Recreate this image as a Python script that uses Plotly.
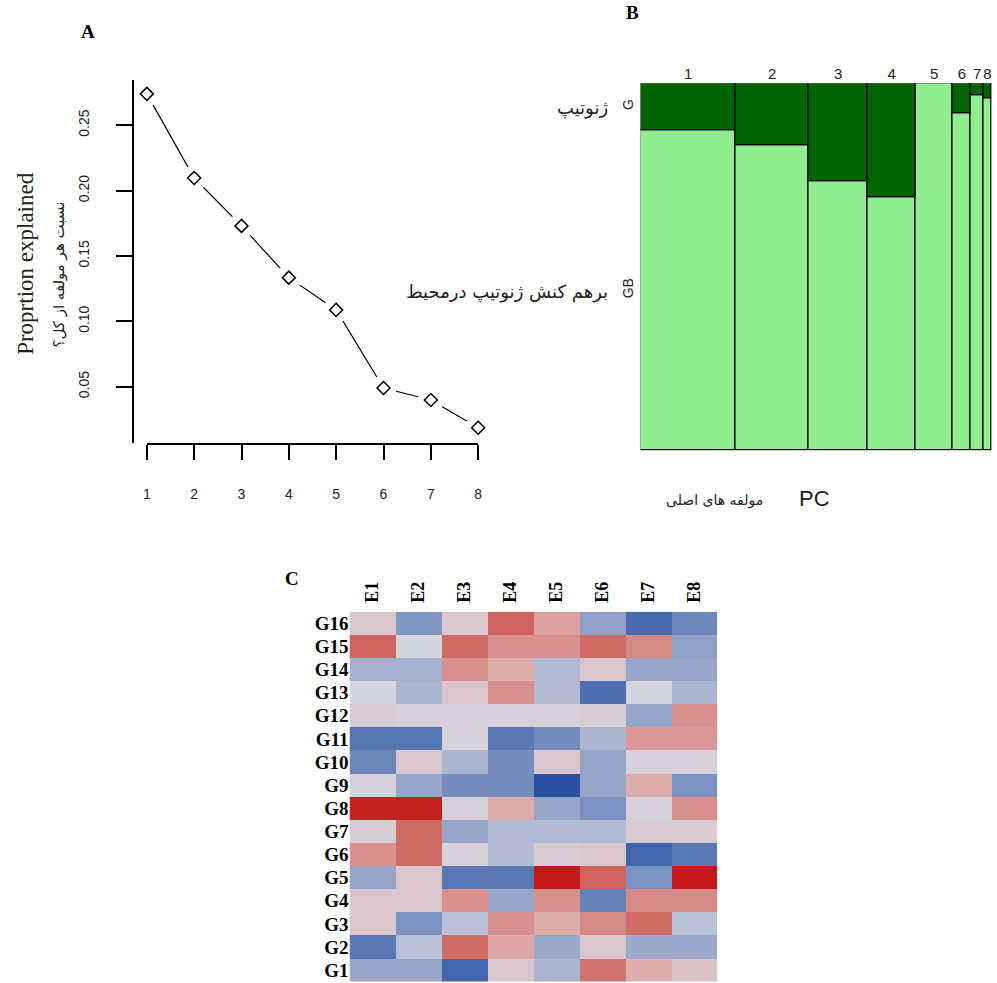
import plotly.graph_objects as go

W, H = 997, 983

# ---------------- data ----------------
pc_labels = [1, 2, 3, 4, 5, 6, 7, 8]
prop_explained = [0.274, 0.2096, 0.173, 0.1334, 0.1087, 0.049, 0.0398, 0.0186]
y_ticks_a = [0.05, 0.10, 0.15, 0.20, 0.25]

mosaic_col_share = [0.271, 0.208, 0.169, 0.136, 0.106, 0.052, 0.035, 0.024]
g_share = [0.127, 0.170, 0.266, 0.309, 0.0, 0.083, 0.032, 0.041]

env_labels = ["E1", "E2", "E3", "E4", "E5", "E6", "E7", "E8"]
gen_labels = ["G16", "G15", "G14", "G13", "G12", "G11", "G10", "G9",
              "G8", "G7", "G6", "G5", "G4", "G3", "G2", "G1"]
heat_values = [
    [0.3, -1.2, 0.3, 1.8, 1.0, -1.0, -2.2, -1.5],   # G16
    [1.8, 0.0, 1.7, 1.2, 1.2, 1.7, 1.3, -1.0],      # G15
    [-0.7, -0.7, 1.2, 0.8, -0.5, 0.3, -0.9, -0.9],  # G14
    [0.0, -0.6, 0.3, 1.2, -0.5, -2.0, 0.0, -0.6],   # G13
    [0.2, 0.1, 0.1, 0.1, 0.1, 0.2, -0.9, 1.2],      # G12
    [-1.9, -1.9, 0.1, -1.8, -1.4, -0.6, 1.1, 1.1],  # G11
    [-1.5, 0.3, -0.6, -1.4, 0.3, -0.9, 0.1, 0.1],   # G10
    [0.1, -0.9, -1.4, -1.4, -2.8, -0.9, 0.8, -1.3], # G9
    [2.8, 2.8, 0.1, 0.8, -0.9, -1.3, 0.1, 1.2],     # G8
    [0.2, 1.7, -0.9, -0.5, -0.5, -0.5, 0.2, 0.2],   # G7
    [1.2, 1.7, 0.1, -0.5, 0.2, 0.3, -2.3, -1.8],    # G6
    [-0.9, 0.3, -1.8, -1.8, 2.9, 1.8, -1.3, 2.9],   # G5
    [0.3, 0.3, 1.2, -0.9, 1.2, -1.6, 1.3, 1.3],     # G4
    [0.3, -1.3, -0.4, 1.2, 0.8, 1.3, 1.7, -0.4],    # G3
    [-1.8, -0.4, 1.7, 0.9, -0.8, 0.3, -0.8, -0.8],  # G2
    [-0.9, -0.9, -2.3, 0.3, -0.6, 1.6, 0.8, 0.4],   # G1
]

# ---------------- helpers ----------------
def px_x(x):
    return x / W

def px_y(y):
    return 1 - y / H

SANS = "Liberation Sans, Arial, sans-serif"
SERIF = "Liberation Serif, Times New Roman, serif"
FA = "DejaVu Sans, Noto Sans, sans-serif"
TXT = "#222222"

fig = go.Figure()

# ---------------- Panel A ----------------
fig.add_trace(go.Scatter(x=pc_labels, y=prop_explained, mode="lines",
                         line=dict(color="black", width=1.2),
                         xaxis="x", yaxis="y", showlegend=False, cliponaxis=False))
fig.add_trace(go.Scatter(x=pc_labels, y=prop_explained, mode="markers",
                         marker=dict(symbol="circle", size=26, color="white",
                                     line=dict(width=0)),
                         xaxis="x", yaxis="y", showlegend=False, cliponaxis=False))
fig.add_trace(go.Scatter(x=pc_labels, y=prop_explained, mode="markers",
                         marker=dict(symbol="diamond-open", size=10, color="black",
                                     line=dict(width=1.5, color="black")),
                         xaxis="x", yaxis="y", showlegend=False, cliponaxis=False))

# ---------------- Panel B (mosaic) ----------------
lefts = []
acc = 0.0
for w in mosaic_col_share:
    lefts.append(acc)
    acc += w
centers = [l + w / 2 for l, w in zip(lefts, mosaic_col_share)]
gb_h = [1 - g for g in g_share]

fig.add_trace(go.Bar(x=centers, y=gb_h, base=[0] * 8, width=mosaic_col_share,
                     marker=dict(color="#90EE90", line=dict(color="black", width=1.3)),
                     xaxis="x2", yaxis="y2", showlegend=False))
fig.add_trace(go.Bar(x=centers, y=g_share, base=gb_h, width=mosaic_col_share,
                     marker=dict(color="#006400", line=dict(color="black", width=1.3)),
                     xaxis="x2", yaxis="y2", showlegend=False))

# ---------------- Panel C (heatmap) ----------------
colorscale = [
    [0.0, "rgb(35,75,160)"],
    [0.2, "rgb(90,120,180)"],
    [0.35, "rgb(150,165,200)"],
    [0.5, "rgb(214,214,224)"],
    [0.65, "rgb(222,168,166)"],
    [0.8, "rgb(205,100,95)"],
    [1.0, "rgb(195,20,20)"],
]
fig.add_trace(go.Heatmap(z=heat_values, x=env_labels, y=gen_labels,
                         colorscale=colorscale, zmin=-3, zmax=3, showscale=False,
                         xaxis="x3", yaxis="y3"))

# ---------------- layout ----------------
fig.update_layout(
    width=W, height=H,
    margin=dict(l=0, r=0, t=0, b=0),
    paper_bgcolor="white", plot_bgcolor="white",
    barmode="overlay", bargap=0,
    xaxis=dict(domain=[px_x(144), px_x(478)], range=[1, 8], anchor="y",
               tickvals=pc_labels, ticktext=[str(v) for v in pc_labels],
               ticks="outside", ticklen=15, tickwidth=1.5, tickcolor="black",
               showline=True, linecolor="black", linewidth=1.5,
               showgrid=False, zeroline=False, ticklabelstandoff=22,
               tickfont=dict(family=SANS, size=14, color=TXT)),
    yaxis=dict(domain=[px_y(443), px_y(80)], range=[0.0069, 0.2846],
               anchor="free", position=px_x(130),
               tickvals=y_ticks_a, ticktext=["%.2f" % v for v in y_ticks_a],
               tickangle=-90, ticks="outside", ticklen=16, tickwidth=1.5,
               tickcolor="black", showline=True, linecolor="black", linewidth=1.5,
               showgrid=False, zeroline=False, ticklabelstandoff=22,
               tickfont=dict(family=SANS, size=14, color=TXT)),
    xaxis2=dict(domain=[px_x(641.7), px_x(995.7)], range=[0, sum(mosaic_col_share)],
                anchor="y2", side="top", tickvals=centers,
                ticktext=[str(v) for v in pc_labels], ticks="",
                showline=False, showgrid=False, zeroline=False,
                tickfont=dict(family=SANS, size=15, color=TXT)),
    yaxis2=dict(domain=[px_y(450.7), px_y(83.3)], range=[0, 1], anchor="x2",
                tickvals=[gb_h[0] / 2, gb_h[0] + g_share[0] / 2],
                ticktext=["GB", "G"], tickangle=-90, ticks="",
                showline=False, showgrid=False, zeroline=False,
                ticklabelstandoff=4,
                tickfont=dict(family=SANS, size=14, color=TXT)),
    xaxis3=dict(domain=[px_x(348.3), px_x(719)], anchor="y3", side="top",
                tickmode="array", tickvals=env_labels, ticktext=env_labels,
                tickangle=-90, ticks="", showline=False, showgrid=False,
                zeroline=False, ticklabelstandoff=8,
                tickfont=dict(family=SERIF, size=18, color="black", weight="bold")),
    yaxis3=dict(domain=[px_y(981.7), px_y(611.7)], anchor="x3",
                tickmode="array", tickvals=gen_labels, ticktext=gen_labels,
                autorange="reversed", ticks="", showline=False, showgrid=False,
                zeroline=False, ticklabelstandoff=0,
                tickfont=dict(family=SERIF, size=19, color="black", weight="bold")),
)

def note(text, x, y, size, family, angle=0, xanchor="center", color=TXT):
    return dict(text=text, x=px_x(x), y=px_y(y), xref="paper", yref="paper",
                xanchor=xanchor, yanchor="middle", showarrow=False,
                textangle=angle, font=dict(family=family, size=size, color=color))

ann = [
    note("<b>A</b>", 85, 32, 19, SERIF, color="black"),
    note("<b>B</b>", 634, 12, 19, SERIF, color="black"),
    note("<b>C</b>", 290, 578, 19, SERIF, color="black"),
    note("Proprtion explained", 21, 263, 23, SERIF, angle=-90),
    note("نسبت هر مولفه از کل؟", 55, 275, 15, FA, angle=-90),
    note("ژنوتیپ", 611, 108, 18, FA, xanchor="right"),
    note("برهم کنش ژنوتیپ درمحیط", 611, 292, 18, FA, xanchor="right"),
    note("PC", 817, 498, 22, SANS),
    note("مولفه های اصلی", 767, 500, 14, FA, xanchor="right"),
]
fig.update_layout(annotations=ann)

fig.write_html("out.html")
